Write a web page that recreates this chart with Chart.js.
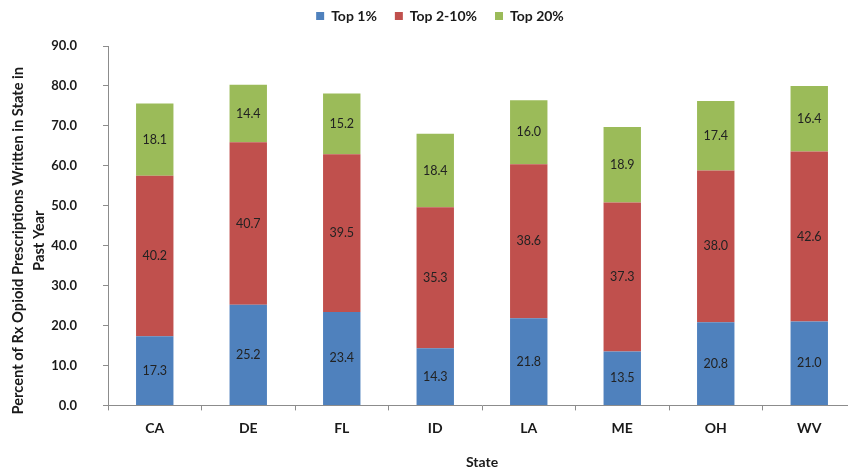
<!DOCTYPE html>
<html>
<head>
<meta charset="utf-8">
<script src="https://cdn.jsdelivr.net/npm/chart.js@4"></script>
<style>
  html, body { margin: 0; padding: 0; background: #fff; overflow: hidden; }
  #wrap { width: 848px; height: 471px; overflow: hidden; position: relative; }
  canvas { display: block; }
</style>
</head>
<body>
<div id="wrap"><canvas id="c" width="860" height="471"></canvas></div>
<script>
// States and shares of opioid prescriptions (%) by prescriber group
const categories = ['CA', 'DE', 'FL', 'ID', 'LA', 'ME', 'OH', 'WV'];
const top1 = [17.3, 25.2, 23.4, 14.3, 21.8, 13.5, 20.8, 21.0];
const top2to10 = [40.2, 40.7, 39.5, 35.3, 38.6, 37.3, 38.0, 42.6];
const top20 = [18.1, 14.4, 15.2, 18.4, 16.0, 18.9, 17.4, 16.4];
const seriesNames = ['Top 1%', 'Top 2-10%', 'Top 20%'];
const yTitleLines = ['Percent of Rx Opioid Prescriptions Written in State in', 'Past Year'];
const xTitle = 'State';
const yMin = 0, yMax = 90, yStep = 10;

const FONT = 'Lato, "Open Sans", sans-serif';
const TEXT = '#1a1a1a';
const AXIS = '#8c8c8c';

// Writes each segment's value in the middle of its bar piece
const segmentLabels = {
  id: 'segmentLabels',
  afterDatasetsDraw(chart) {
    const ctx = chart.ctx;
    ctx.save();
    ctx.font = '12.5px ' + FONT;
    ctx.fillStyle = '#222';
    ctx.textAlign = 'center';
    ctx.textBaseline = 'middle';
    chart.data.datasets.forEach((ds, i) => {
      const meta = chart.getDatasetMeta(i);
      meta.data.forEach((bar, j) => {
        const v = ds.data[j];
        ctx.fillText(v.toFixed(1), bar.x, (bar.y + bar.base) / 2);
      });
    });
    ctx.restore();
  }
};

// Two-line rotated title for the value axis, sitting a little below the plot's middle
const yAxisTitle = {
  id: 'yAxisTitle',
  afterDraw(chart) {
    const ctx = chart.ctx;
    const area = chart.chartArea;
    const cy = (area.top + area.bottom) / 2 + 15;
    ctx.save();
    ctx.font = 'bold 14.7px ' + FONT;
    ctx.fillStyle = TEXT;
    ctx.textAlign = 'center';
    ctx.textBaseline = 'middle';
    ctx.translate(0, cy);
    ctx.rotate(-Math.PI / 2);
    yTitleLines.forEach((line, i) => {
      ctx.fillText(line, 0, 18 + i * 21);
    });
    ctx.restore();
  }
};

// Nudges the legend row up and to the right
const legendShift = {
  id: 'legendShift',
  afterLayout(chart) {
    const lg = chart.legend;
    if (!lg) return;
    lg.left += 12; lg.right += 12;
    lg.top -= 13; lg.bottom -= 13;
  }
};

new Chart(document.getElementById('c'), {
  type: 'bar',
  data: {
    labels: categories,
    datasets: [
      { label: seriesNames[0], data: top1, backgroundColor: '#4F81BD' },
      { label: seriesNames[1], data: top2to10, backgroundColor: '#C0504D' },
      { label: seriesNames[2], data: top20, backgroundColor: '#9BBB59' }
    ]
  },
  options: {
    responsive: false,
    animation: false,
    events: [],
    datasets: { bar: { categoryPercentage: 0.4, barPercentage: 1.0 } },
    layout: { padding: { top: 4, left: 0, right: 4, bottom: 0 } },
    plugins: {
      tooltip: { enabled: false },
      legend: {
        position: 'top',
        labels: {
          boxWidth: 8, boxHeight: 8, padding: 18,
          color: TEXT,
          font: { family: FONT, size: 14, weight: 'bold' }
        }
      }
    },
    scales: {
      x: {
        stacked: true,
        grid: { display: true, drawOnChartArea: false, offset: true, tickLength: 5, color: AXIS },
        border: { color: AXIS },
        ticks: { color: TEXT, padding: 10, font: { family: FONT, size: 14, weight: 'bold' } },
        title: {
          display: true, text: xTitle, color: TEXT,
          padding: { top: 7, bottom: 0 },
          font: { family: FONT, size: 14, weight: 'bold' }
        }
      },
      y: {
        stacked: true,
        min: yMin, max: yMax,
        grid: { display: true, drawOnChartArea: false, tickLength: 5, color: AXIS },
        border: { color: AXIS },
        ticks: {
          stepSize: yStep, padding: 26, color: TEXT,
          font: { family: FONT, size: 13, weight: 'bold' },
          callback: v => Number(v).toFixed(1)
        },
        title: { display: false },
        afterFit(scale) { scale.width = 108; }
      }
    }
  },
  plugins: [segmentLabels, yAxisTitle, legendShift]
});
</script>
</body>
</html>
